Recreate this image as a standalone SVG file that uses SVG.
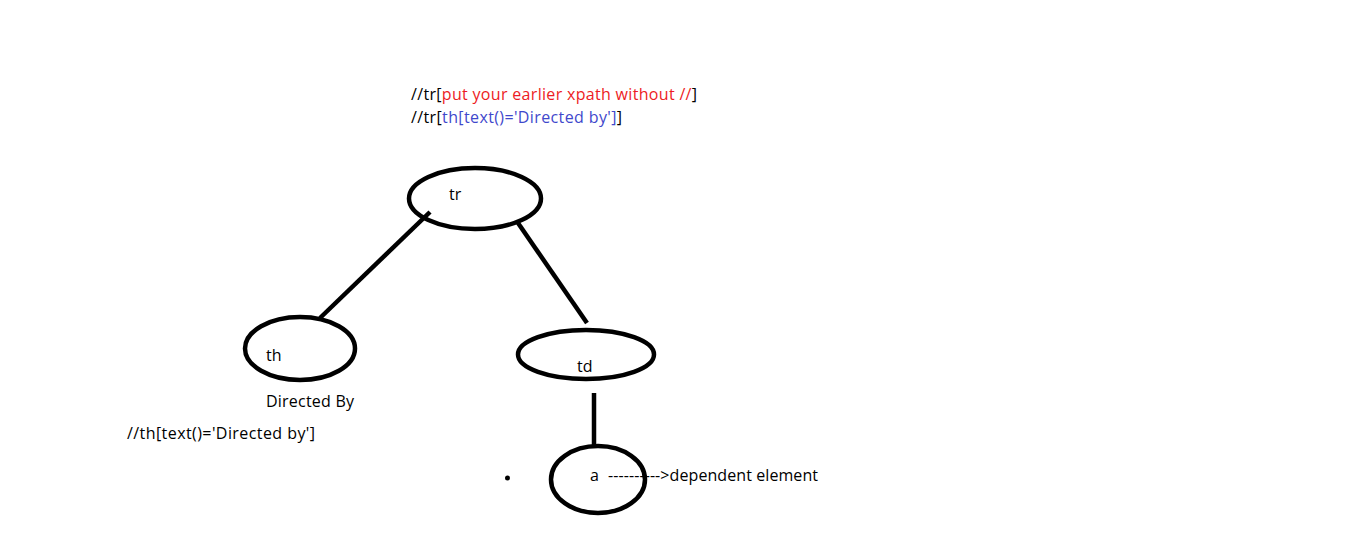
<svg xmlns="http://www.w3.org/2000/svg" width="1350" height="555" viewBox="0 0 1350 555">
<style>
.n{fill:none;stroke:#000;stroke-width:4.5}
.c{stroke:#000;stroke-width:4.5;fill:none}
text{font-family:"Open Sans","Liberation Sans",sans-serif;font-size:16px;fill:#000}
.r{fill:#ed1c24}
.b{fill:#3f48cc}
</style>
<rect width="1350" height="555" fill="#fff"/>
<g id="xpath-top">
<text x="411" y="100" textLength="286">//tr[<tspan class="r">put your earlier xpath without //</tspan>]</text>
<text x="411" y="123" textLength="211">//tr[<tspan class="b">th[text()='Directed by']</tspan>]</text>
</g>
<g id="connectors">
<line class="c" x1="430" y1="212" x2="320" y2="318"/>
<line class="c" x1="518" y1="223" x2="587" y2="323"/>
<line class="c" x1="594" y1="393" x2="594" y2="447"/>
</g>
<g id="node-tr">
<ellipse class="n" cx="475" cy="198.5" rx="66" ry="30.5"/>
<text x="449" y="200">tr</text>
</g>
<g id="node-th">
<ellipse class="n" cx="300" cy="348.5" rx="55" ry="31.5"/>
<text x="266" y="361">th</text>
<text x="266" y="407" textLength="88">Directed By</text>
</g>
<g id="node-td">
<ellipse class="n" cx="586" cy="354.5" rx="68" ry="24.5"/>
<text x="577" y="372">td</text>
</g>
<g id="node-a">
<ellipse class="n" cx="598" cy="479.5" rx="47" ry="33.5"/>
<text x="590" y="481">a</text>
<text x="608" y="481" textLength="210">----------&gt;dependent element</text>
</g>
<g id="xpath-th">
<text x="127" y="439" textLength="188">//th[text()='Directed by']</text>
</g>
<circle cx="507.5" cy="478" r="2.5" fill="#000"/>
</svg>
